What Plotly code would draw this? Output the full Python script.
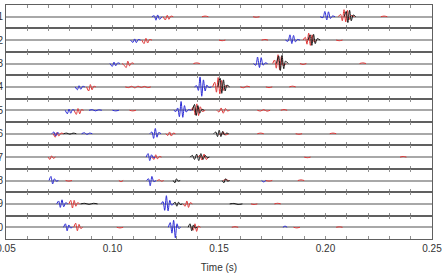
import plotly.graph_objects as go
from plotly.subplots import make_subplots

row_labels = ["1", "2", "3", "4", "5", "6", "7", "8", "9", "10"]
x_ticks = [0.05, 0.06, 0.07, 0.08, 0.09, 0.10, 0.11, 0.12, 0.13, 0.14, 0.15,
           0.16, 0.17, 0.18, 0.19, 0.20, 0.21, 0.22, 0.23, 0.24, 0.25]
x_tick_text = ["0.05", "", "", "", "", "0.10", "", "", "", "", "0.15",
               "", "", "", "", "0.20", "", "", "", "", "0.25"]

# ---- blue traces (time s, amplitude) per row ----
blue_t = [
    [0.1185, 0.1196, 0.1204, 0.1212, 0.1221, 0.1232, None,
     0.1975, 0.1988, 0.1997, 0.2006, 0.2014, 0.2023, 0.2033, 0.2045],
    [0.1085, 0.1096, 0.1104, 0.1112, 0.1121, 0.1132, None,
     0.1812, 0.1824, 0.1833, 0.1842, 0.1850, 0.1859, 0.1868, 0.1880],
    [0.0988, 0.0999, 0.1007, 0.1015, 0.1024, 0.1035, None,
     0.1662, 0.1673, 0.1681, 0.1690, 0.1698, 0.1707, 0.1716, 0.1728],
    [0.0825, 0.0835, 0.0843, 0.0851, 0.0860, 0.0870, None,
     0.1385, 0.1395, 0.1403, 0.1411, 0.1419, 0.1427, 0.1435, 0.1443, 0.1452, 0.1465],
    [0.0778, 0.0788, 0.0796, 0.0804, 0.0812, 0.0822, None,
     0.0890, 0.0905, 0.0920, 0.0935, 0.0950, None, 0.1000, 0.1015, 0.1030, None,
     0.1288, 0.1298, 0.1306, 0.1314, 0.1322, 0.1330, 0.1338, 0.1346, 0.1356, 0.1370],
    [0.0715, 0.0725, 0.0733, 0.0742, 0.0750, None,
     0.0855, 0.0868, 0.0880, 0.0892, 0.0905, None,
     0.1175, 0.1185, 0.1193, 0.1201, 0.1209, 0.1217, 0.1228],
    [0.1158, 0.1167, 0.1175, 0.1183, 0.1192, 0.1200],
    [0.0702, 0.0711, 0.0719, 0.0727, 0.0736, 0.0746, None,
     0.1160, 0.1169, 0.1177, 0.1185, 0.1194, 0.1205, None,
     0.1700, 0.1710, 0.1720],
    [0.0738, 0.0747, 0.0755, 0.0763, 0.0771, 0.0780, 0.0790, None,
     0.1228, 0.1237, 0.1245, 0.1253, 0.1261, 0.1269, 0.1277, 0.1287],
    [0.0770, 0.0779, 0.0787, 0.0795, 0.0803, 0.0812, None,
     0.1262, 0.1271, 0.1279, 0.1287, 0.1295, 0.1303, 0.1311, 0.1320, None,
     0.1800, 0.1810, 0.1820],
]
blue_v = [
    [0, 0.08, -0.30, 0.15, -0.22, 0, None,
     0, -0.08, 0.45, -0.28, 0.42, -0.15, 0.06, 0],
    [0, -0.20, 0.10, -0.22, 0.05, 0, None,
     0, -0.10, 0.45, -0.30, 0.40, -0.15, 0.05, 0],
    [0, -0.25, 0.12, -0.20, 0.05, 0, None,
     0, -0.15, 0.55, -0.35, 0.50, -0.15, 0.05, 0],
    [0, -0.25, 0.10, -0.20, 0.05, 0, None,
     0, 0.10, -0.30, 0.85, -0.80, 0.60, -0.35, 0.15, -0.05, 0],
    [0, -0.30, 0.10, -0.25, 0.05, 0, None,
     0, 0.05, -0.05, 0.04, 0, None, 0, -0.05, 0, None,
     0, -0.10, 0.20, -0.55, 0.75, -0.60, 0.40, -0.15, 0.05, 0],
    [0, 0.15, -0.20, 0.10, 0, None,
     0, 0.08, -0.06, 0.05, 0, None,
     0, 0.15, -0.40, 0.45, -0.30, 0.10, 0],
    [0, 0.30, -0.30, 0.20, -0.05, 0],
    [0, 0.35, -0.30, 0.15, -0.05, 0, None,
     0, 0.15, -0.45, 0.35, -0.10, 0, None,
     0, -0.12, 0],
    [0, 0.25, -0.30, 0.35, -0.25, 0.10, 0, None,
     0, 0.20, -0.55, 0.70, -0.60, 0.30, -0.10, 0],
    [0, 0.30, -0.30, 0.20, -0.05, 0, None,
     0, 0.40, -0.50, 0.60, -0.90, 0.30, -0.10, 0, None,
     0, 0.10, 0],
]

# ---- red traces ----
red_t = [
    [0.1238, 0.1248, 0.1257, 0.1265, 0.1274, 0.1285, None,
     0.1420, 0.1435, 0.1450, None, 0.1660, 0.1675, 0.1690, None,
     0.2060, 0.2071, 0.2079, 0.2087, 0.2095, 0.2103, 0.2111, 0.2120, 0.2135, None,
     0.2260, 0.2275, 0.2290],
    [0.1138, 0.1148, 0.1157, 0.1165, 0.1174, 0.1185, None,
     0.1500, 0.1515, 0.1530, None, 0.1700, 0.1715, 0.1730, None,
     0.1895, 0.1905, 0.1913, 0.1921, 0.1929, 0.1937, 0.1946, 0.1960, None,
     0.2050, 0.2065, 0.2080],
    [0.1045, 0.1055, 0.1064, 0.1072, 0.1080, 0.1090, 0.1100, None,
     0.1380, 0.1395, 0.1410, None,
     0.1752, 0.1761, 0.1769, 0.1777, 0.1785, 0.1793, 0.1802, 0.1815, None,
     0.1880, 0.1895, 0.1910, None, 0.2160, 0.2175, 0.2190],
    [0.0878, 0.0888, 0.0896, 0.0904, 0.0912, 0.0922, None,
     0.1060, 0.1075, 0.1090, 0.1105, 0.1120, 0.1135, 0.1150, 0.1165, 0.1180, None,
     0.1470, 0.1480, 0.1488, 0.1496, 0.1504, 0.1512, 0.1520, 0.1528, 0.1540, None,
     0.1600, 0.1615, 0.1630, 0.1645, None, 0.1720, 0.1735, 0.1750, None,
     0.1830, 0.1845, 0.1860],
    [0.0820, 0.0830, 0.0838, 0.0846, 0.0854, 0.0864, None,
     0.1080, 0.1095, 0.1110, None,
     0.1370, 0.1380, 0.1388, 0.1396, 0.1404, 0.1412, 0.1422, 0.1435, None,
     0.1490, 0.1500, 0.1510, 0.1520, 0.1530, 0.1540, 0.1550, None,
     0.1680, 0.1695, 0.1710, 0.1725, 0.1740, None, 0.1790, 0.1805, 0.1820],
    [0.0722, 0.0731, 0.0739, 0.0748, 0.0758, 0.0770, None,
     0.1250, 0.1260, 0.1268, 0.1276, 0.1285, 0.1295, None,
     0.1500, 0.1510, 0.1520, 0.1530, 0.1545, None,
     0.1680, 0.1695, 0.1710, None, 0.1860, 0.1875, 0.1890, None,
     0.2020, 0.2035, 0.2050],
    [0.0698, 0.0706, 0.0714, 0.0722, 0.0732, None,
     0.1185, 0.1195, 0.1203, 0.1211, 0.1220, 0.1230, None,
     0.1400, 0.1410, 0.1420, 0.1430, 0.1440, 0.1450, None,
     0.1900, 0.1915, 0.1930, None, 0.2350, 0.2365, 0.2380],
    [0.0780, 0.0795, 0.0810, None, 0.1030, 0.1040, 0.1050, None,
     0.1210, 0.1220, 0.1230, 0.1240, None,
     0.1520, 0.1530, 0.1545, None,
     0.1720, 0.1735, 0.1750, None, 0.1870, 0.1885, 0.1900],
    [0.0795, 0.0804, 0.0812, 0.0820, 0.0828, 0.0836, 0.0846, None,
     0.1332, 0.1341, 0.1349, 0.1357, 0.1365, 0.1375, None,
     0.1650, 0.1665, 0.1680, None, 0.1760, 0.1775, 0.1790],
    [0.0818, 0.0827, 0.0835, 0.0843, 0.0851, 0.0860, None,
     0.1020, 0.1035, 0.1050, None,
     0.1370, 0.1379, 0.1387, 0.1395, 0.1403, 0.1413, None,
     0.1560, 0.1575, 0.1590, None, 0.1850, 0.1865, 0.1880, None,
     0.2050, 0.2065, 0.2080],
]
red_v = [
    [0, -0.28, 0.12, -0.22, 0.05, 0, None,
     0, 0.05, 0, None, 0, -0.05, 0, None,
     0, 0.20, -0.35, 0.60, -0.45, 0.55, -0.25, 0.10, 0, None,
     0, 0.05, 0],
    [0, -0.30, 0.15, -0.25, 0.05, 0, None,
     0, -0.05, 0, None, 0, 0.05, 0, None,
     0, 0.25, -0.35, 0.60, -0.45, 0.45, -0.15, 0, None,
     0, -0.05, 0],
    [0, -0.15, -0.35, 0.20, -0.20, 0.05, 0, None,
     0, 0.05, 0, None,
     0, 0.30, -0.40, 0.75, -0.55, 0.60, -0.20, 0, None,
     0, -0.08, 0, None, 0, 0.05, 0],
    [0, -0.35, 0.20, -0.25, 0.05, 0, None,
     0, -0.06, 0.05, -0.08, 0.06, -0.05, 0.04, -0.06, 0, None,
     0, 0.40, -0.45, 0.80, -0.60, 0.55, -0.30, 0.10, 0, None,
     0, -0.07, 0.06, 0, None, 0, -0.06, 0, None,
     0, 0.06, 0],
    [0, -0.35, 0.15, -0.30, 0.05, 0, None,
     0, -0.05, 0, None,
     0, 0.30, -0.40, 0.55, -0.45, 0.30, -0.10, 0, None,
     0, -0.15, 0.20, -0.25, 0.15, -0.05, 0, None,
     0, -0.06, 0.05, -0.07, 0, None, 0, 0.06, 0],
    [0, -0.30, 0.10, -0.20, 0.05, 0, None,
     0, -0.15, 0.15, -0.20, 0.05, 0, None,
     0, -0.12, 0.15, -0.10, 0, None,
     0, 0.05, 0, None, 0, -0.05, 0, None,
     0, 0.05, 0],
    [0, -0.20, 0.10, -0.10, 0, None,
     0, -0.20, 0.20, -0.15, 0.05, 0, None,
     0, 0.15, -0.25, 0.25, -0.20, 0, None,
     0, -0.05, 0, None, 0, 0.05, 0],
    [0, -0.05, 0, None, 0, -0.10, 0, None,
     0, 0.06, -0.06, 0, None,
     0, 0.08, 0, None,
     0, -0.05, 0, None, 0, 0.05, 0],
    [0, 0.30, -0.35, 0.30, -0.20, 0.10, 0, None,
     0, -0.20, 0.25, -0.30, 0.10, 0, None,
     0, -0.05, 0, None, 0, 0.05, 0],
    [0, 0.35, -0.30, 0.25, -0.10, 0, None,
     0, -0.05, 0, None,
     0, -0.25, 0.30, -0.35, 0.10, 0, None,
     0, 0.05, 0, None, 0, -0.05, 0, None,
     0, 0.04, 0],
]

# ---- black traces ----
black_t = [
    [0.2088, 0.2097, 0.2105, 0.2113, 0.2121, 0.2130, 0.2142],
    [0.1918, 0.1928, 0.1936, 0.1944, 0.1952, 0.1961, 0.1975],
    [0.1770, 0.1780, 0.1788, 0.1796, 0.1804, 0.1812, 0.1825],
    [0.1495, 0.1505, 0.1513, 0.1521, 0.1529, 0.1537, 0.1550],
    [0.1375, 0.1385, 0.1393, 0.1401, 0.1409, 0.1420, 0.1430],
    [0.0770, 0.0785, 0.0800, 0.0815, 0.0830, None,
     0.1475, 0.1485, 0.1493, 0.1501, 0.1509, 0.1517, 0.1525, 0.1535, 0.1545],
    [0.1365, 0.1375, 0.1385, 0.1395, 0.1405, 0.1415, 0.1425, 0.1435, 0.1445, 0.1455],
    [0.1285, 0.1293, 0.1300, 0.1308, 0.1318, None,
     0.1515, 0.1523, 0.1531, 0.1540, 0.1550],
    [0.0850, 0.0870, 0.0890, 0.0910, 0.0930, None,
     0.1285, 0.1294, 0.1302, 0.1310, 0.1318, 0.1328, None,
     0.1550, 0.1570, 0.1590, 0.1610],
    [0.1355, 0.1364, 0.1372, 0.1380, 0.1388, 0.1398],
]
black_v = [
    [0, 0.45, -0.50, 0.55, -0.35, 0.15, 0],
    [0, 0.45, -0.45, 0.50, -0.30, 0.12, 0],
    [0, 0.65, -0.60, 0.70, -0.45, 0.20, 0],
    [0, 0.75, -0.55, 0.60, -0.35, 0.15, 0],
    [0, 0.50, -0.45, 0.40, -0.25, 0.08, 0],
    [0, 0.05, -0.04, 0.05, 0, None,
     0, 0.15, -0.25, 0.30, -0.25, 0.20, -0.10, 0.05, 0],
    [0, 0.15, -0.20, 0.25, -0.30, 0.30, -0.20, 0.15, -0.05, 0],
    [0, -0.20, 0.15, -0.05, 0, None,
     0, -0.20, 0.15, -0.05, 0],
    [0, 0.05, -0.04, 0.05, 0, None,
     0, 0.15, -0.20, 0.15, -0.05, 0, None,
     0, 0.04, -0.05, 0],
    [0, 0.30, -0.30, 0.20, -0.05, 0],
]

N = len(row_labels)
fig = make_subplots(rows=N, cols=1, shared_xaxes=True, vertical_spacing=0)

BLUE = "#2b2bd6"
RED = "#e03535"
BLACK = "#1a1a1a"
FONT = dict(family="Liberation Sans, Arial", size=10, color="#333333")

for i in range(N):
    r = i + 1
    for tt, vv, col in ((red_t[i], red_v[i], RED),
                        (black_t[i], black_v[i], BLACK),
                        (blue_t[i], blue_v[i], BLUE)):
        fig.add_trace(go.Scatter(x=tt, y=vv, mode="lines",
                                 line=dict(color=col, width=1, shape="spline", smoothing=0.8),
                                 showlegend=False, hoverinfo="skip"),
                      row=r, col=1)
    fig.update_yaxes(range=[-1, 1], tickvals=[0], ticktext=[row_labels[i]],
                     ticks="", showgrid=False, zeroline=True, automargin=False,
                     ticklabeloverflow="allow",
                     zerolinecolor="#a8a8a8", zerolinewidth=1.5,
                     showline=True, mirror=True, linecolor="#606060", linewidth=1,
                     tickfont=FONT, row=r, col=1)
    fig.update_xaxes(range=[0.05, 0.25], tickvals=x_ticks, ticktext=x_tick_text,
                     ticks="inside", ticklen=3, tickcolor="#909090", tickwidth=1,
                     showgrid=False, zeroline=False, automargin=False,
                     ticklabeloverflow="allow",
                     showline=True, mirror="ticks", linecolor="#606060", linewidth=1,
                     showticklabels=(r == N), tickfont=FONT,
                     row=r, col=1)

fig.update_xaxes(title=dict(text="Time (s)", standoff=10, font=FONT), row=N, col=1)

fig.update_layout(width=448, height=278,
                  margin=dict(l=6, r=16, t=5, b=39),
                  paper_bgcolor="white", plot_bgcolor="white")

fig.write_html("out.html")
